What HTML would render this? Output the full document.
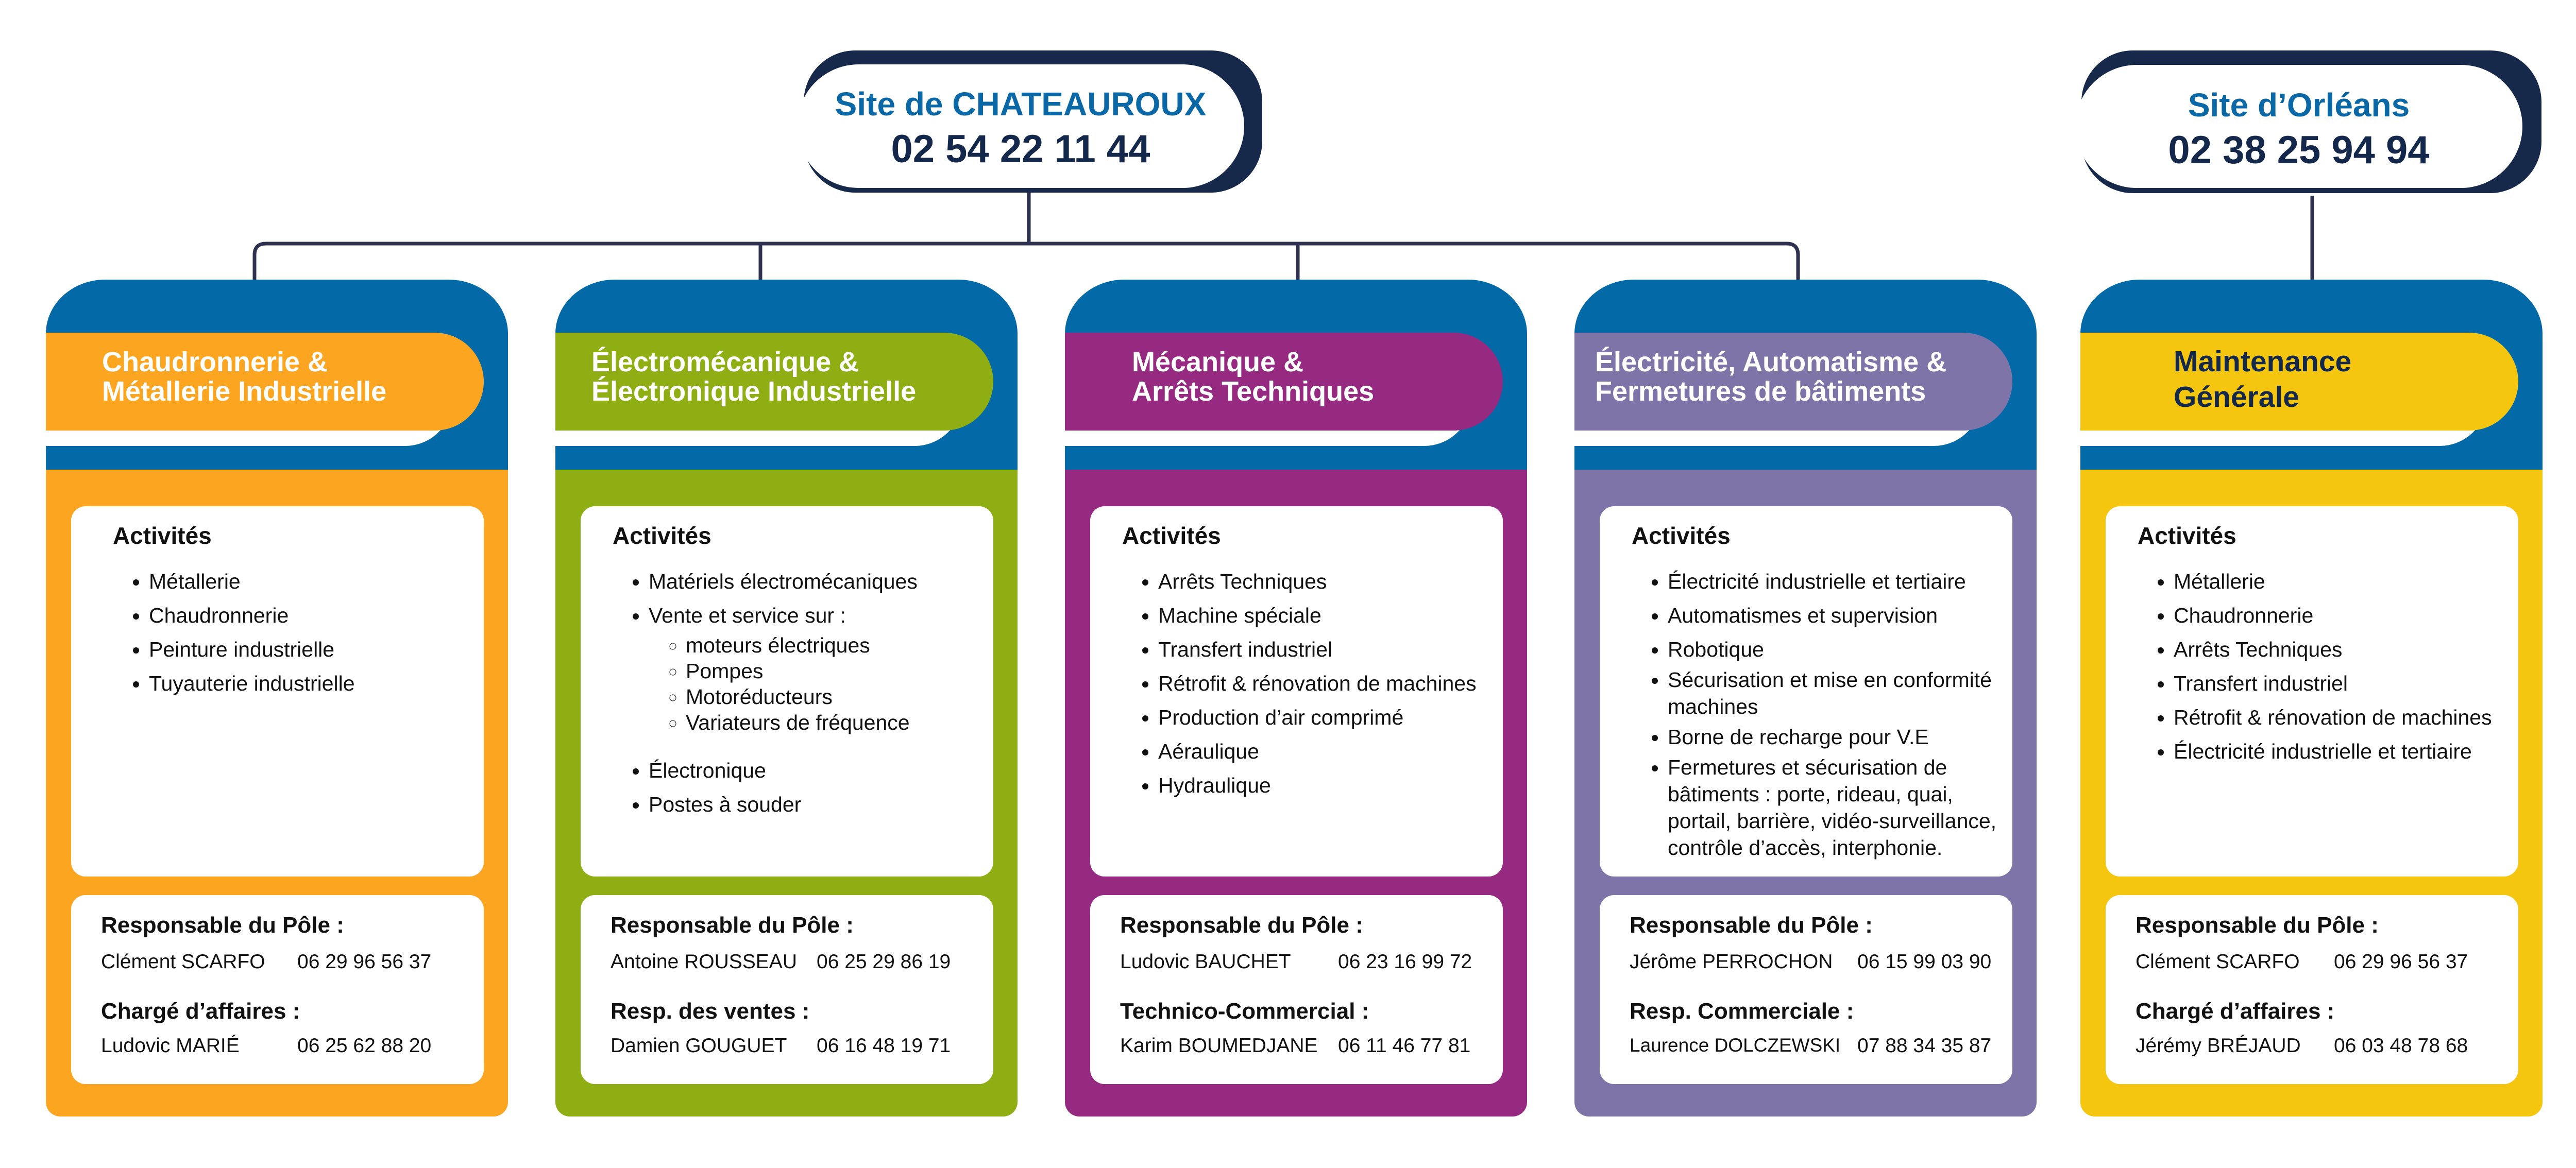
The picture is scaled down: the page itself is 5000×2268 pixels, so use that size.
<!DOCTYPE html>
<html><head><meta charset="utf-8">
<style>
*{margin:0;padding:0;box-sizing:border-box}
body{width:5000px;height:2268px;background:#fff;position:relative;overflow:hidden;font-family:"Liberation Sans",Arial,sans-serif;color:#111}
.abs{position:absolute}
.card{position:absolute;top:543px;width:897px;height:1625px}
.card .top{position:absolute;left:0;top:0;width:897px;height:400px;background:#046aa7;border-radius:115px 115px 0 0/105px 105px 0 0}
.card .body{position:absolute;left:0;top:369px;width:897px;height:1256px;border-radius:0 0 28px 28px}
.card .wpill{position:absolute;left:0;top:137px;width:790px;height:186px;background:#fff;border-radius:0 95px 95px 0}
.card .band{position:absolute;left:0;top:103px;width:850px;height:190px;border-radius:0 95px 95px 0}
.card .title{position:absolute;font-weight:bold;font-size:54px;line-height:57px;color:#fff;white-space:nowrap;top:132px}
.act{position:absolute;left:49px;top:440px;width:801px;height:719px;background:#fff;border-radius:28px;padding:34px 0 0 62px}
.act h4{font-size:46px;line-height:1;font-weight:bold}
.act ul{margin-top:40px;padding-left:70px;font-size:41px;line-height:52px}
.act li{margin-bottom:14px}
.act ul ul{margin-top:7px;margin-bottom:0;padding-left:72px;line-height:50px;list-style:circle}
.act ul ul li{margin-bottom:0}
.act.tight li{margin-bottom:7px}
.con{position:absolute;left:49px;top:1195px;width:801px;height:367px;background:#fff;border-radius:28px}
.lab{position:absolute;left:58px;font-size:44px;font-weight:bold;line-height:1;white-space:nowrap}
.nm{position:absolute;left:58px;font-size:39px;line-height:1;white-space:nowrap}
.site{position:absolute;text-align:center;white-space:nowrap}
.site .a{font-weight:bold;color:#0a68a7;font-size:64px;line-height:1}
.site .b{font-weight:bold;color:#14284b;font-size:76px;line-height:1}
</style></head><body>

<svg class="abs" style="left:0;top:0" width="5000" height="2268">
<g fill="none" stroke="#2e3250" stroke-width="7">
<path d="M1997 373 V473"/>
<path d="M494 545 V495 Q494 473 516 473 H3468 Q3490 473 3490 495 V545"/>
<path d="M1476 473 V545"/>
<path d="M2519 473 V545"/>
<path d="M4488 380 V545"/>
</g>
</svg>

<!-- Chateauroux -->
<div class="abs" style="left:1560px;top:98px;width:890px;height:276px;background:#16294b;border-radius:100px"></div>
<div class="abs" style="left:1547px;top:125px;width:868px;height:240px;background:#fff;border-radius:120px"></div>
<div class="site" style="left:1547px;top:170px;width:868px">
<div class="a">Site de CHATEAUROUX</div>
<div class="b" style="margin-top:18px">02 54 22 11 44</div>
</div>

<!-- Orleans -->
<div class="abs" style="left:4040px;top:98px;width:893px;height:277px;background:#16294b;border-radius:100px"></div>
<div class="abs" style="left:4028px;top:126px;width:868px;height:239px;background:#fff;border-radius:120px"></div>
<div class="site" style="left:4028px;top:172px;width:868px">
<div class="a">Site d’Orléans</div>
<div class="b" style="margin-top:18px">02 38 25 94 94</div>
</div>

<!-- Card 1 -->
<div class="card" style="left:89px">
<div class="top"></div><div class="body" style="background:#fca521"></div>
<div class="wpill"></div><div class="band" style="background:#fca521"></div>
<div class="title" style="left:109px">Chaudronnerie &amp;<br>Métallerie Industrielle</div>
<div class="act" style="padding-left:81px"><h4>Activités</h4><ul>
<li>Métallerie</li><li>Chaudronnerie</li><li>Peinture industrielle</li><li>Tuyauterie industrielle</li></ul></div>
<div class="con">
<div class="lab" style="top:37px">Responsable du Pôle :</div>
<div class="nm" style="top:110px">Clément SCARFO</div><div class="nm" style="top:110px;left:439px">06 29 96 56 37</div>
<div class="lab" style="top:204px">Chargé d’affaires :</div>
<div class="nm" style="top:273px">Ludovic MARIÉ</div><div class="nm" style="top:273px;left:439px">06 25 62 88 20</div>
</div></div>

<!-- Card 2 -->
<div class="card" style="left:1078px">
<div class="top"></div><div class="body" style="background:#8fae14"></div>
<div class="wpill"></div><div class="band" style="background:#8fae14"></div>
<div class="title" style="left:70px">Électromécanique &amp;<br>Électronique Industrielle</div>
<div class="act"><h4>Activités</h4><ul>
<li>Matériels électromécaniques</li>
<li>Vente et service sur :<ul><li>moteurs électriques</li><li>Pompes</li><li>Motoréducteurs</li><li>Variateurs de fréquence</li></ul></li>
<li style="margin-top:42px">Électronique</li><li>Postes à souder</li></ul></div>
<div class="con">
<div class="lab" style="top:37px">Responsable du Pôle :</div>
<div class="nm" style="top:110px">Antoine ROUSSEAU</div><div class="nm" style="top:110px;left:458px">06 25 29 86 19</div>
<div class="lab" style="top:204px">Resp. des ventes :</div>
<div class="nm" style="top:273px">Damien GOUGUET</div><div class="nm" style="top:273px;left:458px">06 16 48 19 71</div>
</div></div>

<!-- Card 3 -->
<div class="card" style="left:2067px">
<div class="top"></div><div class="body" style="background:#952a80"></div>
<div class="wpill"></div><div class="band" style="background:#952a80"></div>
<div class="title" style="left:130px">Mécanique &amp;<br>Arrêts Techniques</div>
<div class="act"><h4>Activités</h4><ul>
<li>Arrêts Techniques</li><li>Machine spéciale</li><li>Transfert industriel</li><li>Rétrofit &amp; rénovation de machines</li><li>Production d’air comprimé</li><li>Aéraulique</li><li>Hydraulique</li></ul></div>
<div class="con">
<div class="lab" style="top:37px">Responsable du Pôle :</div>
<div class="nm" style="top:110px">Ludovic BAUCHET</div><div class="nm" style="top:110px;left:481px">06 23 16 99 72</div>
<div class="lab" style="top:204px">Technico-Commercial :</div>
<div class="nm" style="top:273px">Karim BOUMEDJANE</div><div class="nm" style="top:273px;left:481px">06 11 46 77 81</div>
</div></div>

<!-- Card 4 -->
<div class="card" style="left:3056px">
<div class="top"></div><div class="body" style="background:#7f74a8"></div>
<div class="wpill"></div><div class="band" style="background:#7f74a8"></div>
<div class="title" style="left:40px">Électricité, Automatisme &amp;<br>Fermetures de bâtiments</div>
<div class="act tight"><h4>Activités</h4><ul>
<li style="margin-bottom:14px">Électricité industrielle et tertiaire</li><li style="margin-bottom:14px">Automatismes et supervision</li><li>Robotique</li><li>Sécurisation et mise en conformité machines</li><li>Borne de recharge pour V.E</li><li>Fermetures et sécurisation de bâtiments : porte, rideau, quai, portail, barrière, vidéo-surveillance, contrôle d’accès, interphonie.</li></ul></div>
<div class="con">
<div class="lab" style="top:37px">Responsable du Pôle :</div>
<div class="nm" style="top:110px">Jérôme PERROCHON</div><div class="nm" style="top:110px;left:500px">06 15 99 03 90</div>
<div class="lab" style="top:204px">Resp. Commerciale :</div>
<div class="nm" style="top:273px;font-size:37px">Laurence DOLCZEWSKI</div><div class="nm" style="top:273px;left:500px">07 88 34 35 87</div>
</div></div>

<!-- Card 5 -->
<div class="card" style="left:4038px">
<div class="top"></div><div class="body" style="background:#f4c610"></div>
<div class="wpill"></div><div class="band" style="background:#f4c610"></div>
<div class="title" style="left:181px;color:#14284b;font-size:57px;line-height:69px;top:125px">Maintenance<br>Générale</div>
<div class="act"><h4>Activités</h4><ul>
<li>Métallerie</li><li>Chaudronnerie</li><li>Arrêts Techniques</li><li>Transfert industriel</li><li>Rétrofit &amp; rénovation de machines</li><li>Électricité industrielle et tertiaire</li></ul></div>
<div class="con">
<div class="lab" style="top:37px">Responsable du Pôle :</div>
<div class="nm" style="top:110px">Clément SCARFO</div><div class="nm" style="top:110px;left:443px">06 29 96 56 37</div>
<div class="lab" style="top:204px">Chargé d’affaires :</div>
<div class="nm" style="top:273px">Jérémy BRÉJAUD</div><div class="nm" style="top:273px;left:443px">06 03 48 78 68</div>
</div></div>

</body></html>
